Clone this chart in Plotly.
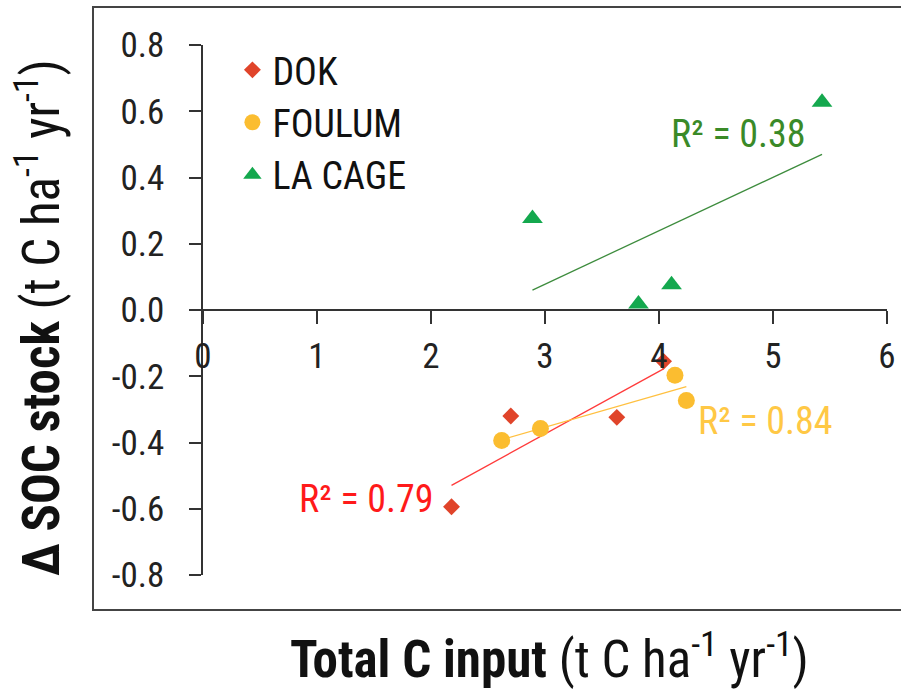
import subprocess
import numpy as np
import plotly.graph_objects as go

# ---- data ----
dok_x = [2.18, 2.70, 3.63, 4.04]
dok_y = [-0.594, -0.320, -0.324, -0.155]
foulum_x = [2.62, 2.96, 4.14, 4.24]
foulum_y = [-0.394, -0.358, -0.197, -0.273]
lacage_x = [2.89, 3.82, 4.11, 5.43]
lacage_y = [0.276, 0.018, 0.076, 0.627]

x_ticks = [0, 1, 2, 3, 4, 5, 6]
y_ticks = [0.8, 0.6, 0.4, 0.2, 0.0, -0.2, -0.4, -0.6, -0.8]
y_ticklabels = ["0.8", "0.6", "0.4", "0.2", "0.0", "-0.2", "-0.4", "-0.6", "-0.8"]

r2_labels = {"DOK": "R² = 0.79", "FOULUM": "R² = 0.84", "LA CAGE": "R² = 0.38"}

# ---- pick the narrowest available font ----
try:
    fams = subprocess.run(["fc-list", ":", "family"], capture_output=True,
                          text=True, timeout=10).stdout
except Exception:
    fams = ""
if "Liberation Sans Narrow" in fams:
    FONT, K = "Liberation Sans Narrow", 1.25
elif "Roboto Condensed" in fams:
    FONT, K = "Roboto Condensed", 1.12
else:
    FONT, K = "DejaVu Sans Condensed", 1.0

S_TICK = round(31 * K)
S_LEG = round(34 * K)
S_R2 = round(33.5 * K)
S_TITLE = round(45.5 * K)

series = [
    ("DOK", dok_x, dok_y, "diamond", 13, "#e0442a", "#ff3b3b"),
    ("FOULUM", foulum_x, foulum_y, "circle", 17, "#fbbd30", "#ffc040"),
    ("LA CAGE", lacage_x, lacage_y, "triangle-up", 18, "#14a84e", "#3d8c3d"),
]

fig = go.Figure()
for name, xs, ys, sym, sz, mcol, lcol in series:
    xs = np.array(xs); ys = np.array(ys)
    slope, icpt = np.polyfit(xs, ys, 1)
    lx = np.array([xs.min(), xs.max()])
    fig.add_trace(go.Scatter(x=lx, y=slope * lx + icpt, mode="lines",
                             line=dict(color=lcol, width=1.3),
                             showlegend=False, hoverinfo="skip", cliponaxis=False))
for name, xs, ys, sym, sz, mcol, lcol in series:
    fig.add_trace(go.Scatter(x=xs, y=ys, mode="markers", name=name,
                             marker=dict(symbol=sym, size=sz, color=mcol,
                                         line=dict(width=0)),
                             cliponaxis=False))

annotations = [
    dict(x=1.43, y=-0.57, text=r2_labels["DOK"], font=dict(color="#ff1a1a")),
    dict(x=4.93, y=-0.336, text=r2_labels["FOULUM"], font=dict(color="#ffc845")),
    dict(x=4.70, y=0.53, text=r2_labels["LA CAGE"], font=dict(color="#3a8a28")),
]
for a in annotations:
    a["font"].update(size=S_R2, family=FONT)
    a.update(xref="x", yref="y", showarrow=False, xanchor="center", yanchor="middle")

annotations.append(dict(
    xref="paper", yref="paper", x=(549 - 203) / 684, y=(575 - 656) / 530,
    text="<b>Total C input</b> (t C ha<sup>-1</sup> yr<sup>-1</sup>)",
    showarrow=False, xanchor="center", yanchor="middle",
    font=dict(size=S_TITLE, family=FONT, color="#111111")))
annotations.append(dict(
    xref="paper", yref="paper", x=(38 - 203) / 684, y=(575 - 318) / 530,
    text="<b>Δ SOC stock</b> (t C ha<sup>-1</sup> yr<sup>-1</sup>)",
    textangle=-90, showarrow=False, xanchor="center", yanchor="middle",
    font=dict(size=S_TITLE, family=FONT, color="#111111")))

fig.update_layout(
    width=901, height=689,
    margin=dict(l=203, r=14, t=45, b=114, autoexpand=False),
    paper_bgcolor="white", plot_bgcolor="white",
    font=dict(family=FONT, size=S_TICK, color="#222222"),
    annotations=annotations,
    showlegend=True,
    legend=dict(x=0.043, y=1.012, xanchor="left", yanchor="top",
                font=dict(size=S_LEG, family=FONT, color="#111111"),
                bgcolor="rgba(0,0,0,0)", tracegroupgap=0, itemwidth=30),
    xaxis=dict(range=[0, 6], tickvals=x_ticks, ticks="outside", ticklen=13,
               tickwidth=1.5, tickcolor="#333333", showline=True, linecolor="#333333",
               linewidth=1.5, showgrid=False, zeroline=False, anchor="free",
               position=0.5, ticklabelstandoff=2, automargin=False,
               tickfont=dict(size=S_TICK, family=FONT, color="#222222")),
    yaxis=dict(range=[-0.8, 0.8], tickvals=y_ticks, ticktext=y_ticklabels,
               ticks="outside", ticklen=12, tickwidth=1.5, tickcolor="#333333",
               showline=True, linecolor="#333333", linewidth=1.5, showgrid=False,
               zeroline=False, ticklabelstandoff=18, automargin=False,
               tickfont=dict(size=S_TICK, family=FONT, color="#222222")),
    shapes=[dict(type="rect", xref="paper", yref="paper",
                 x0=(93 - 203) / 684, x1=(905 - 203) / 684,
                 y0=(575 - 610) / 530, y1=(575 - 7) / 530,
                 line=dict(color="#444444", width=2), fillcolor="rgba(0,0,0,0)",
                 layer="below")],
)

fig.write_html("out.html", config={"displayModeBar": False},
               post_script="document.body.style.margin='0';"
                           "document.body.style.overflow='hidden';")
